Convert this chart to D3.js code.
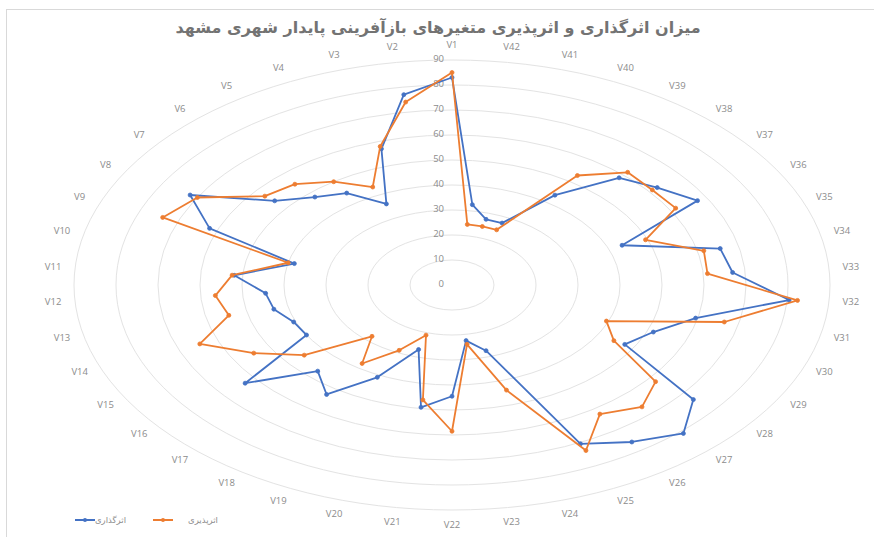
<!DOCTYPE html>
<html>
<head>
<meta charset="utf-8">
<script src="https://cdn.jsdelivr.net/npm/d3@7"></script>
<style>
  html, body { margin: 0; padding: 0; background: #fff; }
  svg { display: block; }
</style>
</head>
<body>
<svg id="chart" width="874" height="537"></svg>
<script>
const categories = Array.from({length: 42}, (_, i) => "V" + (i + 1));
const seriesNames = ["اثرگذاری", "اثرپذیری"];
const influence = [83, 77, 57, 36, 44.5, 48, 54, 72, 62, 38.5, 52, 44.5, 43.5, 40.5, 40, 63, 47, 53, 41, 27, 49.5,
                   44.5, 22.5, 27.5, 70.5, 76, 81, 73.5, 47.5, 51.5, 59.5, 80.5, 67, 65.5, 43.5, 67.5, 62.5, 58.5, 43.5, 27.5, 27.5, 32.5];
const dependence = [85, 74, 58, 43.5, 50, 55, 57, 70, 74, 40, 52.5, 56.5, 54.5, 64.5, 54.5, 45, 28, 38, 29, 21, 46.5,
                    58.5, 24, 44, 73.5, 62.5, 66.5, 62, 44.5, 39.5, 66.5, 82.5, 61, 61.5, 49.5, 61.5, 61, 61.5, 53, 24.5, 24.5, 24.5];
const ticks = [0, 10, 20, 30, 40, 50, 60, 70, 80, 90];
const title = "میزان اثرگذاری و اثرپذیری متغیرهای بازآفرینی پایدار شهری مشهد";
const colors = ["#4472C4", "#ED7D31"];

const svg = d3.select("#chart");
const cx = 452, cy = 285;
const rX = d3.scaleLinear().domain([0, 90]).range([0, 378]);
const rY = d3.scaleLinear().domain([0, 90]).range([0, 225]);
const angle = d3.scalePoint().domain(categories.concat(["_end"])).range([0, 2 * Math.PI]);

// frame
svg.append("rect").attr("x", 6.5).attr("y", 9.5).attr("width", 900).attr("height", 560)
  .attr("fill", "none").attr("stroke", "#d9d9d9").attr("stroke-width", 1);

// title
svg.append("text").attr("x", 438).attr("y", 33).attr("text-anchor", "middle")
  .attr("font-family", "DejaVu Sans").attr("font-size", 16).attr("font-weight", "bold")
  .attr("fill", "#737373").attr("direction", "rtl").text(title);

// grid ellipses
svg.append("g").selectAll("ellipse").data(ticks.filter(t => t > 0)).join("ellipse")
  .attr("cx", cx).attr("cy", cy).attr("rx", d => rX(d)).attr("ry", d => rY(d))
  .attr("fill", "none").attr("stroke", "#e3e3e3").attr("stroke-width", 1);

// value axis labels
svg.append("g").selectAll("text").data(ticks).join("text")
  .attr("x", cx - 8).attr("y", d => cy - rY(d) - 1)
  .attr("text-anchor", "end").attr("dominant-baseline", "middle")
  .attr("font-family", "Open Sans").attr("font-size", 9.5).attr("fill", "#8c8c8c")
  .text(d => d);

// category labels
const lx = 400, ly = 240;
svg.append("g").selectAll("text").data(categories).join("text")
  .attr("x", d => cx - lx * Math.sin(angle(d)))
  .attr("y", d => cy - ly * Math.cos(angle(d)))
  .attr("text-anchor", "middle").attr("dominant-baseline", "middle")
  .attr("font-family", "Open Sans").attr("font-size", 9.5).attr("fill", "#8c8c8c")
  .text(d => d);

const pt = (v, i) => [cx - rX(v) * Math.sin(angle(categories[i])), cy - rY(v) * Math.cos(angle(categories[i]))];
const line = d3.line().curve(d3.curveLinearClosed);

[influence, dependence].forEach((vals, s) => {
  const pts = vals.map((v, i) => pt(v, i));
  const g = svg.append("g");
  g.append("path").attr("d", line(pts)).attr("fill", "none")
    .attr("stroke", colors[s]).attr("stroke-width", 1.8).attr("stroke-linejoin", "round");
  g.selectAll("circle").data(pts).join("circle")
    .attr("cx", d => d[0]).attr("cy", d => d[1]).attr("r", 2)
    .attr("fill", colors[s]).attr("stroke", colors[s]).attr("stroke-width", 0.8);
});

// legend
const legend = [{x: 75, tx: 126, s: 0}, {x: 153, tx: 218, s: 1}];
legend.forEach(l => {
  svg.append("line").attr("x1", l.x).attr("x2", l.x + 20).attr("y1", 520).attr("y2", 520)
    .attr("stroke", colors[l.s]).attr("stroke-width", 2);
  svg.append("circle").attr("cx", l.x + 10).attr("cy", 520).attr("r", 2).attr("fill", colors[l.s]);
  svg.append("text").attr("x", l.tx).attr("y", 520).attr("text-anchor", "end")
    .attr("dominant-baseline", "middle").attr("direction", "ltr")
    .attr("font-family", "DejaVu Sans").attr("font-size", 8.5).attr("fill", "#8c8c8c")
    .text(seriesNames[l.s]);
});
</script>
</body>
</html>
